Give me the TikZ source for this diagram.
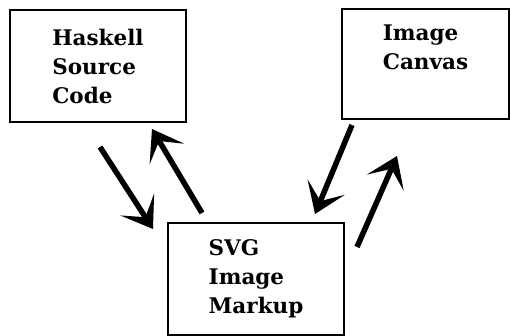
\documentclass[tikz,border=0pt]{standalone}
\usepackage{fontspec}
\setmainfont{DejaVu Serif}
\usetikzlibrary{arrows.meta}
\begin{document}
\begin{tikzpicture}[x=1pt,y=-1pt,
  block/.style={draw=black,line width=2pt,inner sep=0pt,
    font=\bfseries\fontsize{21.5}{29}\selectfont,align=left},
  flow/.style={line width=5.5pt,
    -{Stealth[length=29pt,width=40pt,inset=15pt]}}]
\useasboundingbox (0,0) rectangle (511,336);
% the three stages
\node[block,minimum width=176pt,minimum height=112pt] (hs) at (98,66) {Haskell\\Source\\Code};
\node[block,minimum width=167pt,minimum height=110pt] (ic) at (425.5,64) {Image\\Canvas\\[4pt]};
\node[block,minimum width=176pt,minimum height=112pt] (svg) at (256,279) {SVG\\Image\\Markup};
% arrow ends between the stages
\coordinate (hsOut) at (100,147);
\coordinate (svgIn) at (153,229);
\coordinate (svgOutL) at (202,213);
\coordinate (hsIn) at (152,129);
\coordinate (icOut) at (352,125);
\coordinate (svgInR) at (315,214);
\coordinate (svgOutR) at (357,247);
\coordinate (icIn) at (397,156);
\draw[flow] (hsOut) -- (svgIn);
\draw[flow] (svgOutL) -- (hsIn);
\draw[flow] (icOut) -- (svgInR);
\draw[flow] (svgOutR) -- (icIn);
\end{tikzpicture}
\end{document}
